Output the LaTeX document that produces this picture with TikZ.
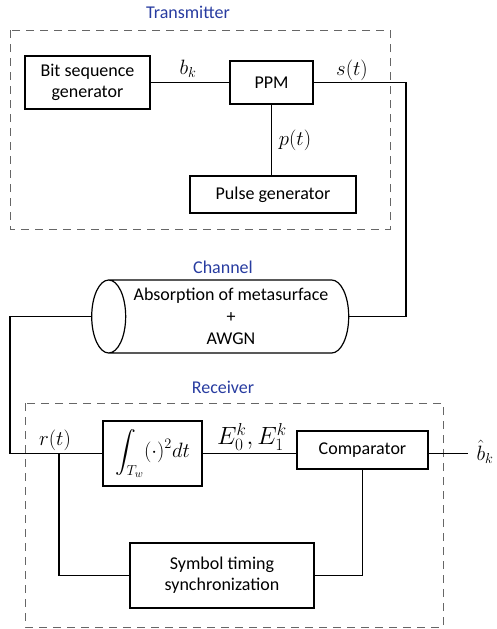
\documentclass[tikz,border=0pt]{standalone}
\usepackage{amsmath}
\usepackage{fontspec}
\setmainfont{Carlito}
\usetikzlibrary{shapes.geometric,positioning}
\definecolor{secblue}{RGB}{40,60,160}

\tikzset{
  blk/.style={draw, line width=1.2pt, align=center, inner sep=2pt,
    font=\fontsize{18}{21}\selectfont},
  sec/.style={text=secblue, font=\fontsize{18}{21}\selectfont},
  frame/.style={draw=black!60, line width=0.9pt, dash pattern=on 8pt off 6pt},
  wire/.style={line width=1.2pt},
  sig/.style={font=\fontsize{21}{25}\selectfont},
}

\begin{document}
\begin{tikzpicture}[x=1pt, y=-1pt]
  \useasboundingbox (0,0) rectangle (496,629);

  % Transmitter
  \node[sec] (txlbl) at (188,12) {Transmitter};
  \draw[frame] (10,30) rectangle (390,229);
  \node[blk, minimum width=125, minimum height=53] (bitgen) at (87.5,82.5) {Bit sequence\\generator};
  \node[blk, minimum width=83, minimum height=43] (ppm) at (271.5,82.5) {PPM};
  \node[blk, minimum width=166, minimum height=37] (pulse) at (273,194.5) {Pulse generator};

  \draw[wire] (bitgen) -- (ppm);
  \draw[wire] (ppm.south) -- (ppm.south |- pulse.north);
  \node[sig] (bk) at (188,69) {$b_k$};
  \node[sig] (pt) at (295,140) {$p(t)$};
  \node[sig] (st) at (352,70) {$s(t)$};

  % Channel
  \node[sec] (chlbl) at (223,267) {Channel};
  \node[draw, cylinder, shape border rotate=180, line width=1.2pt, aspect=0.6,
    minimum width=73, minimum height=257, align=center, inner sep=0pt,
    font=\fontsize{18}{22}\selectfont] (chan) at (229,316.5)
    {\hspace*{4pt}Absorption of metasurface\\\hspace*{4pt}+\\\hspace*{4pt}AWGN};

  \coordinate (stcorner) at (406,82.5);
  \draw[wire] (ppm.east) -- (stcorner) |- (chan.east);

  % Receiver
  \node[sec] (rxlbl) at (223,387) {Receiver};
  \draw[frame] (25,403) rectangle (443,627);
  \node[blk, minimum width=99, minimum height=65, inner sep=0pt,
    font=\fontsize{22}{26}\selectfont] (integ) at (152.5,453.5)
    {$\displaystyle\int_{T_w}(\cdot)^2dt$};
  \node[blk, minimum width=131, minimum height=38] (comp) at (362.5,450) {Comparator};
  \node[blk, minimum width=184, minimum height=65] (sync) at (222,575.5) {Symbol timing\\synchronization};
  \node[sig] (bhat) at (485,452) {$\hat{b}_k$};

  \coordinate (rxcorner) at (10,453.5);
  \coordinate (tap) at (59,453.5);
  \coordinate (rxout) at (468,453.5);
  \draw[wire] (chan.west) -| (rxcorner) -- (integ.west);
  \draw[wire] (integ.east) -- (integ.east -| comp.west);
  \draw[wire] (comp.east |- rxout) -- (rxout);
  \draw[wire] (tap) |- (sync.west);
  \draw[wire] (sync.east) -| (comp.south);
  \node[sig] (rt) at (55,440) {$r(t)$};
  \node[sig, font=\fontsize{23}{27}\selectfont] (ek) at (252,437) {$E_0^k, E_1^k$};

\end{tikzpicture}
\end{document}
